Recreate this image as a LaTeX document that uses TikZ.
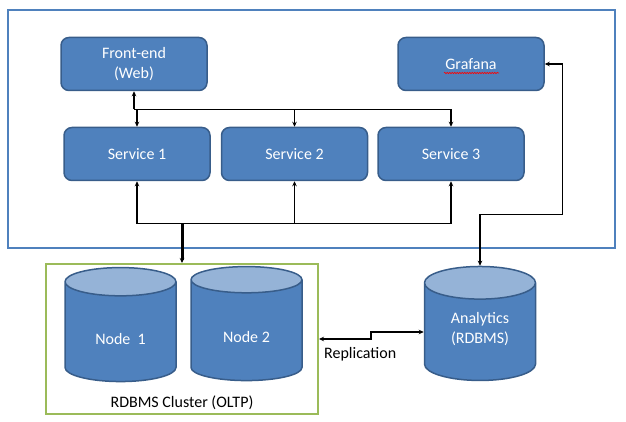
\documentclass[tikz,border=0pt]{standalone}
\usepackage{fontspec}
\setmainfont{Carlito}
\usetikzlibrary{positioning,shapes.geometric,arrows.meta,decorations.pathmorphing}

\definecolor{boxblue}{HTML}{4F81BD}
\definecolor{boxedge}{HTML}{385D8A}
\definecolor{dbtop}{HTML}{95B3D7}
\definecolor{clugreen}{HTML}{9BBB59}
\newcommand{\dfont}{\fontsize{16}{20}\selectfont}

\tikzset{
  box/.style={draw=boxedge, fill=boxblue, line width=1.5pt, rounded corners=8pt,
    minimum width=146pt, minimum height=53pt, inner sep=0pt,
    text=white, align=center, font=\dfont},
  db/.style={cylinder, shape border rotate=90, aspect=0.56, draw=boxedge,
    line width=1.5pt, cylinder uses custom fill, cylinder body fill=boxblue,
    cylinder end fill=dbtop, minimum width=111pt, minimum height=114pt,
    inner sep=0pt, text height=25pt, text=white, align=center, font=\dfont},
  frame/.style={draw=#1, line width=2pt, inner sep=0pt},
  link/.style={line width=1.4pt},
  fat/.style={line width=3pt},
  lbl/.style={font=\dfont, inner sep=0pt},
}

\begin{document}
\begin{tikzpicture}[x=1pt, y=-1pt, >={Stealth[length=5pt,width=4.5pt]}]
  \useasboundingbox (0,0) rectangle (626,422);

  % ── Application tier ─────────────────────────────────────────
  \node[frame=boxblue, minimum width=607pt, minimum height=238pt] (app) at (311.5,129) {};

  \node[box]                    (fe)   at (134,64) {Front-end\\(Web)};
  \node[box]                    (graf) at (471,64) {Grafana};
  \node[box]                    (s1)   at (137,154) {Service 1};
  \node[box, right=10pt of s1]  (s2)   {Service 2};
  \node[box, right=9pt of s2]   (s3)   {Service 3};

  % spell-check squiggle under Grafana
  \draw[red, line width=0.6pt, decorate,
        decoration={snake, amplitude=0.7pt, segment length=2.5pt}]
    ([xshift=-27pt, yshift=-9pt]graf.center) -- ++(55,0);

  % ── Database tier ────────────────────────────────────────────
  \node[frame=clugreen, minimum width=272pt, minimum height=150pt] (clu) at (182,339) {};
  \node[db]  (n1)  at (120.5,332) {Node\ \ 1};
  \node[db]  (n2)  at (246.5,330.5) {Node 2};
  \node[db]  (ana) at (480,332)   {Analytics\\(RDBMS)};

  \node[lbl] (clulbl) at ([yshift=12pt]clu.south) {RDBMS Cluster (OLTP)};

  % ── Top bus: front-end to services ───────────────────────────
  \coordinate (tbus) at ([yshift=-18pt]fe.south);
  \draw[link, ->] (tbus) -- (fe.south);
  \draw[link, ->] (tbus) -| (s3.north);
  \draw[link, ->] (tbus -| s1.north) -- (s1.north);
  \draw[link, ->] (tbus -| s2.north) -- (s2.north);

  % ── Bottom bus: services to cluster ──────────────────────────
  \coordinate (bbus) at ([yshift=-42pt]s1.south);
  \draw[link, <->] (s1.south) -- (bbus) -| (s3.south);
  \draw[link, ->] (bbus -| s2.south) -- (s2.south);
  \draw[fat, ->] (bbus -| clu.north) -- (clu.north);

  % ── Analytics to Grafana ─────────────────────────────────────
  \coordinate (gr) at ([xshift=18pt]graf.east);
  \path (ana.north |- s3.south) ++(0,33) coordinate (turn);
  \draw[link, <->] (graf.east) -- (gr) |- (turn) -- (ana.north);

  % ── Replication ──────────────────────────────────────────────
  \draw[link, <->] (clu.east) -- ++(52,0) |- (ana.west);
  \node[lbl, anchor=west] (rep) at ([xshift=5pt, yshift=-15pt]clu.east) {Replication};

\end{tikzpicture}
\end{document}
